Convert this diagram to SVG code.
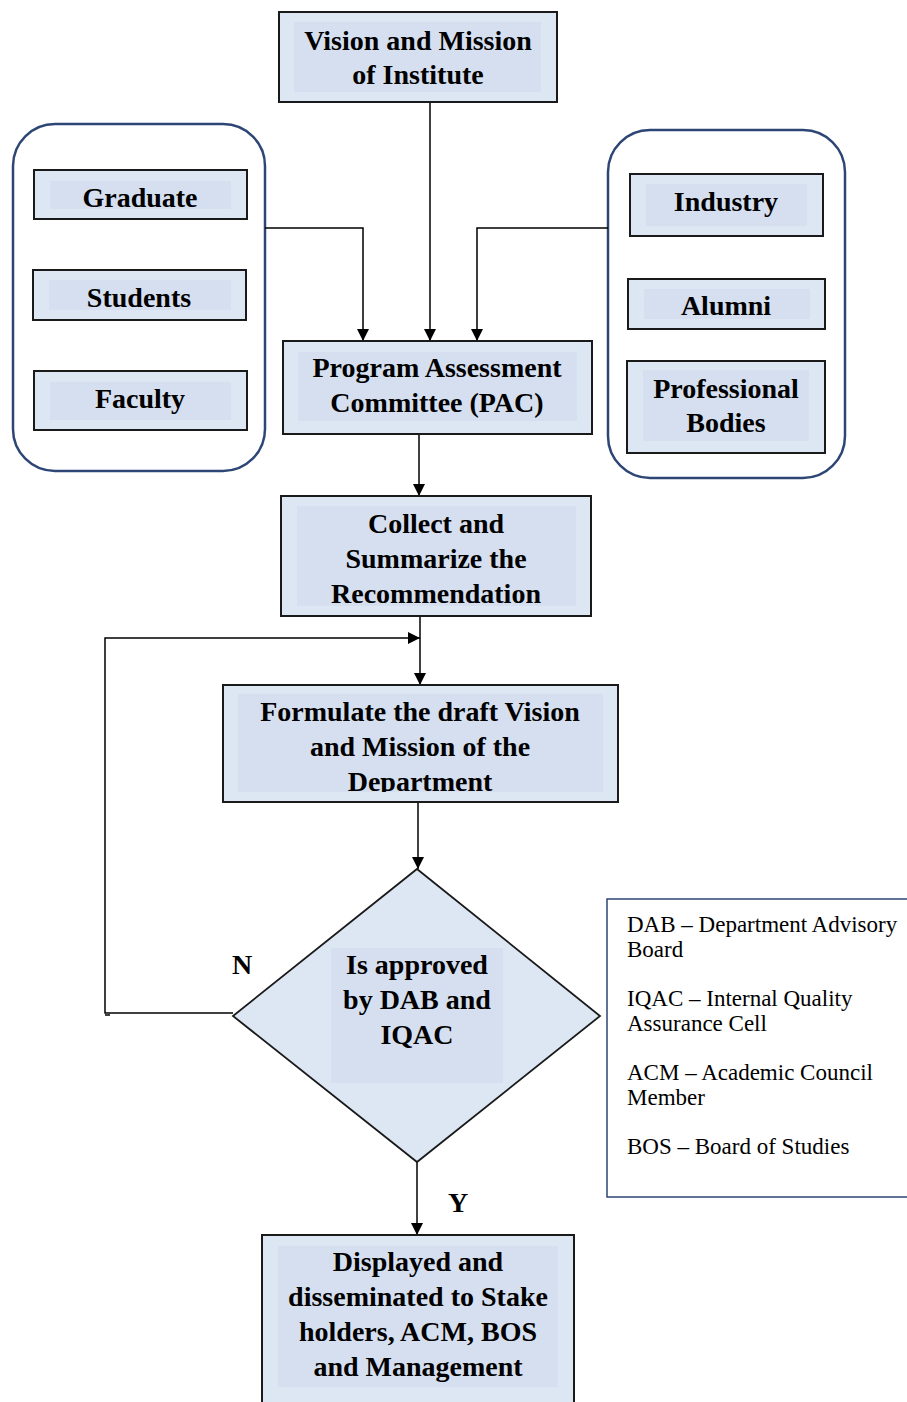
<svg xmlns="http://www.w3.org/2000/svg" width="907" height="1402" viewBox="0 0 907 1402">
  <style>
    .box { fill: #dde7f4; stroke: #1a1a1a; stroke-width: 2; }
    .inner { fill: #d5dfef; stroke: none; }
    .group { fill: #ffffff; stroke: #2d4675; stroke-width: 2.5; }
    .label { font-family: "Liberation Serif", "Times New Roman", serif; font-weight: bold; font-size: 28px; fill: #000; text-anchor: middle; }
    .legend { font-family: "Liberation Serif", "Times New Roman", serif; font-size: 23px; fill: #000; }
    .wire { fill: none; stroke: #000; stroke-width: 1.5; }
  </style>
  <defs>
    <marker id="arrow" viewBox="0 0 12 12" refX="12" refY="6" markerWidth="12" markerHeight="12" markerUnits="userSpaceOnUse" orient="auto">
      <path d="M0,0 L12,6 L0,12 Z" fill="#000"/>
    </marker>
    <clipPath id="clipFormulate">
      <rect x="238" y="694" width="365" height="98"/>
    </clipPath>
  </defs>

  <rect width="907" height="1402" fill="#ffffff"/>

  <!-- stakeholder containers -->
  <g id="internal-stakeholders">
    <rect class="group" x="13" y="124" width="252" height="347" rx="42"/>
  </g>
  <g id="external-stakeholders">
    <rect class="group" x="608" y="130" width="237" height="348" rx="42"/>
  </g>

  <!-- connectors -->
  <g id="connectors">
    <path class="wire" d="M430,102 V341" marker-end="url(#arrow)"/>
    <path class="wire" d="M265,228 H363 V341" marker-end="url(#arrow)"/>
    <path class="wire" d="M608,228 H477 V341" marker-end="url(#arrow)"/>
    <path class="wire" d="M419,434 V496" marker-end="url(#arrow)"/>
    <path class="wire" d="M420,616 V685" marker-end="url(#arrow)"/>
    <path class="wire" d="M233,1013 H105 V638 H420" marker-end="url(#arrow)"/>
    <path class="wire" d="M105,1015 H110"/>
    <path class="wire" d="M418,802 V869" marker-end="url(#arrow)"/>
    <path class="wire" d="M417,1162 V1235" marker-end="url(#arrow)"/>
  </g>

  <g id="vision-institute">
    <rect class="box" x="279" y="12" width="278" height="90"/>
    <rect class="inner" x="294" y="22" width="247" height="70"/>
    <text class="label" x="418" y="50">Vision and Mission</text>
    <text class="label" x="418" y="84">of Institute</text>
  </g>

  <g id="graduate">
    <rect class="box" x="34" y="170" width="213" height="49"/>
    <rect class="inner" x="50" y="181" width="181" height="28"/>
    <text class="label" x="140" y="207">Graduate</text>
  </g>
  <g id="students">
    <rect class="box" x="33" y="270" width="213" height="50"/>
    <rect class="inner" x="49" y="280" width="182" height="30"/>
    <text class="label" x="139" y="307">Students</text>
  </g>
  <g id="faculty">
    <rect class="box" x="34" y="371" width="213" height="59"/>
    <rect class="inner" x="50" y="382" width="181" height="38"/>
    <text class="label" x="140" y="408">Faculty</text>
  </g>

  <g id="industry">
    <rect class="box" x="630" y="174" width="193" height="62"/>
    <rect class="inner" x="646" y="184" width="161" height="42"/>
    <text class="label" x="726" y="211">Industry</text>
  </g>
  <g id="alumni">
    <rect class="box" x="628" y="279" width="197" height="50"/>
    <rect class="inner" x="644" y="289" width="166" height="30"/>
    <text class="label" x="726" y="315">Alumni</text>
  </g>
  <g id="professional-bodies">
    <rect class="box" x="627" y="361" width="198" height="92"/>
    <rect class="inner" x="643" y="370" width="166" height="71"/>
    <text class="label" x="726" y="398">Professional</text>
    <text class="label" x="726" y="432">Bodies</text>
  </g>

  <g id="pac">
    <rect class="box" x="283" y="341" width="309" height="93"/>
    <rect class="inner" x="298" y="352" width="279" height="69"/>
    <text class="label" x="437" y="377">Program Assessment</text>
    <text class="label" x="437" y="412">Committee (PAC)</text>
  </g>

  <g id="collect-summarize">
    <rect class="box" x="281" y="496" width="310" height="120"/>
    <rect class="inner" x="297" y="506" width="279" height="100"/>
    <text class="label" x="436" y="533">Collect and</text>
    <text class="label" x="436" y="568">Summarize the</text>
    <text class="label" x="436" y="603">Recommendation</text>
  </g>

  <g id="formulate-draft">
    <rect class="box" x="223" y="685" width="395" height="117"/>
    <rect class="inner" x="238" y="694" width="365" height="98"/>
    <g clip-path="url(#clipFormulate)">
      <text class="label" x="420" y="721">Formulate the draft Vision</text>
      <text class="label" x="420" y="756">and Mission of the</text>
      <text class="label" x="420" y="791">Department</text>
    </g>
  </g>

  <g id="approval-decision">
    <polygon points="417,869 600,1016 417,1162 233,1016" fill="#dde7f4" stroke="#1a1a1a" stroke-width="1.8"/>
    <rect class="inner" x="331" y="948" width="172" height="135"/>
    <text class="label" x="417" y="974">Is approved</text>
    <text class="label" x="417" y="1009">by DAB and</text>
    <text class="label" x="417" y="1044">IQAC</text>
  </g>

  <g id="branch-labels">
    <text class="label" x="242" y="974">N</text>
    <text class="label" x="458" y="1212">Y</text>
  </g>

  <g id="legend">
    <rect x="607" y="899" width="310" height="298" fill="#ffffff" stroke="#2d4675" stroke-width="1.5"/>
    <text class="legend" x="627" y="932">DAB – Department Advisory</text>
    <text class="legend" x="627" y="957">Board</text>
    <text class="legend" x="627" y="1006">IQAC – Internal Quality</text>
    <text class="legend" x="627" y="1031">Assurance Cell</text>
    <text class="legend" x="627" y="1080">ACM – Academic Council</text>
    <text class="legend" x="627" y="1105">Member</text>
    <text class="legend" x="627" y="1154">BOS – Board of Studies</text>
  </g>

  <g id="disseminate">
    <rect class="box" x="262" y="1235" width="312" height="180"/>
    <rect class="inner" x="278" y="1246" width="280" height="141"/>
    <text class="label" x="418" y="1271">Displayed and</text>
    <text class="label" x="418" y="1306">disseminated to Stake</text>
    <text class="label" x="418" y="1341">holders, ACM, BOS</text>
    <text class="label" x="418" y="1376">and Management</text>
  </g>
</svg>
